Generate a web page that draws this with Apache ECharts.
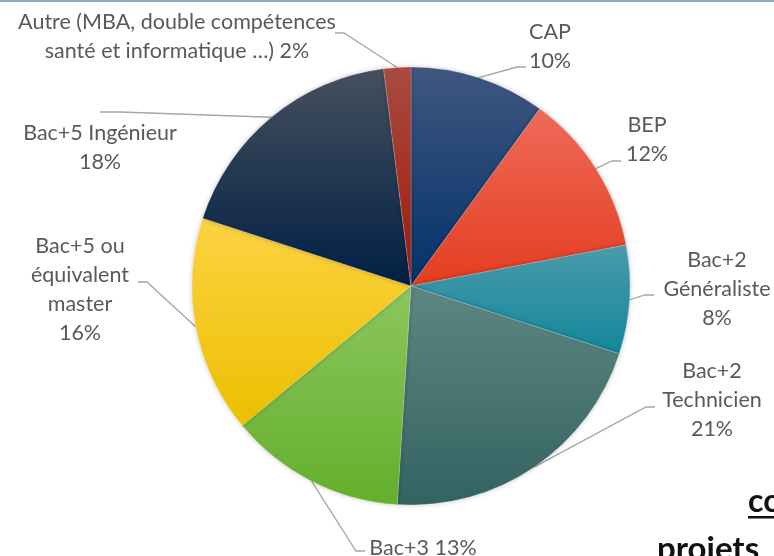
<!DOCTYPE html>
<html>
<head>
<meta charset="utf-8">
<script src="https://cdn.jsdelivr.net/npm/echarts@6/dist/echarts.min.js"></script>
<style>
  html, body { margin: 0; padding: 0; background: #fff; }
  #main { width: 774px; height: 556px; }
</style>
</head>
<body>
<div id="main"></div>
<script>
// données
var categories = [
  'CAP',
  'BEP',
  'Bac+2\nGénéraliste',
  'Bac+2\nTechnicien',
  'Bac+3',
  'Bac+5 ou\néquivalent\nmaster',
  'Bac+5 Ingénieur',
  'Autre (MBA, double compétences\nsanté et informatique …)'
]
var values = [10, 12, 8, 21, 13, 16, 18, 2]
// nom et % sur la même ligne ?
var sameLine = [false, false, false, false, true, false, false, true]

// couleurs dégradées (haut, bas)
var colorsTop = ['#40577f', '#ee6b59', '#4b9bab', '#5e8682', '#8dc65f', '#fdd242', '#46505f', '#a94b43']
var colorsBottom = ['#01326a', '#e43d20', '#12879c', '#336361', '#63af2b', '#ebc000', '#001f44', '#9f1906']

// position des étiquettes : centre du bloc [x, y], bout du trait [x, y]
var labelPos = [
  [550, 47, 526, 67],
  [647, 140, 621, 161],
  [717, 289, 654, 295],
  [712, 400, 655, 407],
  [423, 548, 365, 551],
  [80, 290, 138, 282],
  [100, 148, 100, 112],
  [177, 37, 335, 33]
]

var chart = echarts.init(document.getElementById('main'))

var seriesData = values.map(function (v, i) {
  return {
    name: categories[i],
    value: v,
    itemStyle: {
      color: new echarts.graphic.LinearGradient(0, 0, 0, 1, [
        { offset: 0, color: colorsTop[i] },
        { offset: 1, color: colorsBottom[i] }
      ])
    }
  }
})

var option = {
  animation: false,
  backgroundColor: '#fff',
  graphic: [
    { type: 'rect', shape: { x: 0, y: 0, width: 774, height: 2 }, style: { fill: '#8eaacb' } },
    { type: 'text', x: 748, y: 518, style: { text: 'co', font: 'bold 32px Lato', fill: '#111', textVerticalAlign: 'bottom' } },
    { type: 'rect', shape: { x: 748, y: 516, width: 26, height: 2.5 }, style: { fill: '#111' } },
    { type: 'text', x: 657, y: 566, style: { text: 'projets', font: 'bold 33px Lato', fill: '#111', textVerticalAlign: 'bottom' } }
  ],
  series: [{
    type: 'pie',
    center: [411, 286],
    radius: 219,
    startAngle: 90,
    clockwise: true,
    avoidLabelOverlap: false,
    data: seriesData,
    itemStyle: {
      borderColor: 'rgba(255,255,255,0.35)',
      borderWidth: 0.6,
      shadowBlur: 5,
      shadowColor: 'rgba(0,0,0,0.22)'
    },
    label: {
      show: true,
      position: 'outside',
      fontFamily: 'Lato',
      fontSize: 21.5,
      lineHeight: 29,
      color: '#595959',
      align: 'center',
      formatter: function (p) {
        return p.name + (sameLine[p.dataIndex] ? ' ' : '\n') + p.value + '%'
      }
    },
    labelLine: {
      show: true,
      length: 10,
      length2: 10,
      lineStyle: { color: '#a6a6a6', width: 1.3 }
    },
    labelLayout: function (params) {
      var pos = labelPos[params.dataIndex]
      var start = params.labelLinePoints ? params.labelLinePoints[0] : [pos[2], pos[3]]
      var end = [pos[2], pos[3]]
      var dir = end[0] < start[0] ? 1 : -1
      var knee = [end[0] + dir * 9, end[1]]
      if (params.dataIndex === 6) knee = [end[0] + 20, end[1]]
      return {
        x: pos[0],
        y: pos[1],
        align: 'center',
        verticalAlign: 'middle',
        labelLinePoints: [start, knee, end]
      }
    },
    emphasis: { disabled: true }
  }]
}

chart.setOption(option)
</script>
</body>
</html>
